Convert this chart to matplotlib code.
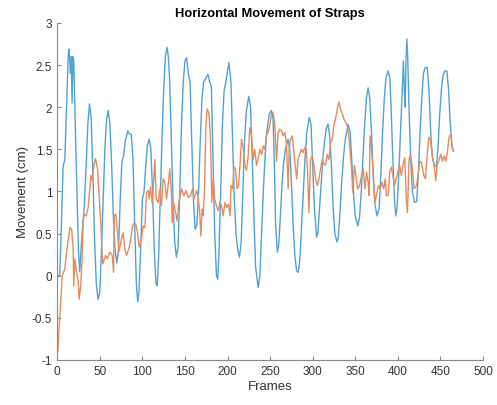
import matplotlib
matplotlib.use("Agg")
import matplotlib.pyplot as plt

# blue strap: frames / movement (cm)
blue_frames = [0, 3, 5, 7, 9, 11, 13, 14, 15.5, 16.5, 17.5, 18.5, 19.5, 21, 23, 25, 26.5, 28, 30, 32,
               34, 36, 38, 40, 42, 44, 46, 48, 50, 52, 54, 56, 58, 60, 62, 64, 66, 68, 70, 72,
               74, 76, 78, 80, 83, 85, 87, 89, 91, 93, 94.5, 96, 98, 100, 102, 104, 106, 108, 110, 112,
               114, 116, 117.5, 119, 121, 123, 125, 127, 129, 130.5, 132, 134, 136, 138, 140, 142, 144, 146, 148, 150,
               152, 154, 156, 158, 160, 162, 164, 166, 168, 170, 172, 175, 177, 179, 181, 183, 185, 187, 188.5, 190,
               192, 194, 196, 198, 201.5, 204, 206, 208, 210, 212, 214, 216, 218, 220, 222, 225, 227, 229, 231, 233,
               236, 238, 240, 242, 244, 246, 249, 251.5, 253.5, 255, 256.5, 258.5, 260, 262, 264, 266, 268, 271, 273, 275,
               277, 279, 281, 283, 285, 287, 289, 291, 293, 296, 298, 300, 302, 304.5, 306, 308, 310, 312, 314, 316,
               318, 320, 322, 324, 326, 328.5, 330, 332, 334, 336, 338, 341.5, 344, 346, 348, 350, 353, 355, 357, 359,
               361, 363, 365, 367, 369, 371, 373, 375.5, 378, 380, 382, 384, 386, 388.5, 390.5, 392, 394, 396, 397.5, 399,
               401, 403, 405, 406.5, 407.5, 408.5, 409.5, 410.5, 411.5, 413, 415, 417, 419.5, 422, 424, 426, 428, 430, 432, 434.5,
               436.5, 438.5, 440.5, 443, 445, 447, 449, 451, 453, 455, 457.5, 459.5, 461.5, 463.5, 465]
blue_vals = [0.0, 0.0, 0.6, 1.3, 1.38, 2.0, 2.62, 2.69, 2.4, 2.6, 2.05, 2.6, 2.55, 1.9, 1.1, 0.3, 0.05, 0.3, 0.6, 0.85,
             1.3, 1.8, 2.04, 1.85, 1.2, 0.4, -0.1, -0.28, -0.2, 0.3, 0.9, 1.5, 1.85, 1.96, 1.8, 1.3, 0.7, 0.3, 0.15, 0.3,
             0.9, 1.35, 1.42, 1.6, 1.72, 1.68, 1.68, 1.4, 0.6, -0.1, -0.31, -0.2, 0.3, 0.9, 1.0, 1.3, 1.55, 1.62, 1.5, 1.0,
             0.3, -0.1, -0.12, 0.2, 0.9, 1.6, 2.2, 2.6, 2.71, 2.6, 2.33, 1.6, 0.9, 0.4, 0.22, 0.35, 1.0, 1.8, 2.3, 2.55,
             2.59, 2.4, 2.3, 1.6, 0.9, 0.55, 0.6, 1.0, 1.6, 2.1, 2.3, 2.35, 2.39, 2.3, 2.25, 1.4, 0.5, 0.0, -0.04, 0.3,
             1.0, 1.8, 2.2, 2.3, 2.53, 2.3, 1.6, 0.9, 0.5, 0.3, 0.22, 0.4, 1.0, 1.6, 1.95, 2.13, 2.0, 1.4, 0.7, 0.1,
             -0.14, 0.0, 0.5, 1.0, 1.4, 1.7, 1.92, 1.96, 1.85, 1.3, 0.6, 0.28, 0.35, 0.7, 1.1, 1.35, 1.5, 1.62, 1.5, 1.1,
             0.6, 0.25, 0.06, 0.04, 0.2, 0.6, 1.0, 1.4, 1.7, 1.88, 1.8, 1.3, 0.8, 0.46, 0.5, 0.8, 1.1, 1.4, 1.6, 1.75,
             1.8, 1.65, 1.3, 0.8, 0.5, 0.4, 0.45, 0.75, 1.1, 1.4, 1.6, 1.8, 1.7, 1.35, 0.95, 0.7, 0.59, 0.7, 1.0, 1.4,
             1.8, 2.1, 2.23, 2.1, 1.7, 1.2, 0.85, 0.71, 0.8, 1.2, 1.7, 2.1, 2.35, 2.43, 2.35, 2.0, 1.4, 0.9, 0.71, 0.8,
             1.2, 1.7, 2.2, 2.55, 2.2, 2.0, 2.55, 2.81, 2.6, 2.0, 1.4, 1.0, 0.87, 0.88, 1.2, 1.7, 2.1, 2.4, 2.47, 2.47,
             2.2, 1.7, 1.4, 1.3, 1.3, 1.5, 1.9, 2.2, 2.38, 2.43, 2.43, 2.2, 1.8, 1.55, 1.48]

# orange strap
orange_frames = [0, 1, 2, 4.3, 6, 9, 12, 15, 17, 18.8, 19.5, 20.8, 22.7, 24.7, 25.8, 27.7, 29.4, 30.5, 31.7, 34,
                 36.4, 38.4, 39.6, 41, 43.5, 45, 47.4, 49, 51.3, 52.8, 53.6, 56.8, 59, 61.9, 64.6, 66.2, 67, 68.9, 70.9, 72.4,
                 74, 75.6, 77.5, 79.4, 81.4, 84.1, 86.5, 88.5, 90.4, 92.3, 94.3, 96.2, 99, 101, 103, 104.9, 107, 108, 109.6, 111.5,
                 113.5, 114.7, 116.3, 118.6, 120.5, 122.5, 124.4, 126.4, 128.3, 130.2, 132.3, 134, 135, 136.7, 139, 140.7, 143, 146, 148.8, 151,
                 154, 156.6, 159, 160.5, 163.7, 165.6, 167.6, 168.7, 170.2, 171.4, 173, 174.5, 176, 178.3, 180, 181.6, 183, 185, 187, 189,
                 191, 193, 194.9, 197, 199, 201, 203, 204, 206, 207.4, 209.3, 211.3, 212.9, 214.4, 216.4, 218.4, 220.3, 222.3, 224.2, 226.2,
                 228.2, 230.1, 232, 234, 236, 238, 240, 241.8, 243.7, 245.7, 247.6, 249.6, 251.6, 253.5, 255.5, 257.5, 259.4, 261.4, 263.4, 265.3,
                 267.3, 269.2, 271.2, 272.4, 274, 276, 278.3, 281.2, 282.8, 284.7, 286.6, 288.6, 290.5, 292.5, 294, 295.5, 297.5, 299.4, 301.4, 303.3,
                 305.3, 307.3, 309.2, 311.2, 313.1, 315, 317, 319, 321, 322.9, 324.8, 326.8, 328.8, 330.7, 332.7, 334.6, 336.6, 338.5, 340.5, 342.4,
                 344.4, 345.6, 347, 349, 351, 353, 355, 357.3, 359.3, 361.2, 363.2, 365, 366.3, 367.3, 369.7, 371.6, 373, 375.5, 377.5, 379.4,
                 381.4, 383.3, 385.3, 386.5, 388.5, 390.4, 392.4, 394, 396, 398, 400, 402, 404, 405.8, 408, 410, 411.2, 413.1, 414.7, 417,
                 419, 421.8, 423.7, 425.7, 427.7, 430.4, 432.3, 434.3, 436.3, 438.2, 440.5, 442.5, 444.4, 446, 448.3, 450.3, 452.2, 454.2, 456.1, 458.1,
                 460, 462, 464, 465.5]
orange_vals = [-0.95, -0.87, -0.67, -0.28, 0.0, 0.08, 0.36, 0.57, 0.55, 0.32, -0.12, 0.2, 0.04, -0.06, -0.28, -0.12, 0.24, 0.63, 0.73, 0.71,
               0.81, 1.03, 1.19, 1.13, 1.33, 1.39, 1.27, 0.99, 0.59, 0.24, 0.14, 0.24, 0.2, 0.28, 0.24, 0.04, 0.71, 0.73, 0.51, 0.28,
               0.36, 0.44, 0.51, 0.32, 0.24, 0.32, 0.44, 0.59, 0.63, 0.61, 0.51, 0.34, 0.44, 0.59, 0.57, 0.99, 1.01, 0.91, 1.05, 0.87,
               1.15, 1.38, 0.91, 0.87, 1.03, 0.83, 1.15, 1.11, 0.91, 1.07, 1.27, 1.03, 0.63, 0.87, 0.75, 0.65, 0.87, 1.03, 0.95, 1.01,
               0.93, 0.95, 1.03, 0.91, 1.01, 0.93, 0.71, 0.47, 0.79, 0.71, 1.03, 1.74, 1.98, 1.92, 1.62, 0.87, 1.15, 0.91, 0.83, 0.77,
               0.87, 0.83, 0.71, 0.87, 0.81, 0.85, 0.71, 1.07, 1.03, 1.29, 1.27, 1.03, 1.07, 1.27, 1.62, 1.52, 1.31, 1.25, 1.42, 1.76,
               1.66, 1.38, 1.5, 1.31, 1.4, 1.5, 1.44, 1.54, 1.5, 1.66, 1.7, 1.78, 1.92, 1.94, 1.78, 1.36, 1.7, 1.74, 1.72, 1.66,
               1.70, 1.56, 1.03, 1.5, 1.62, 1.66, 1.42, 1.15, 1.38, 1.44, 1.5, 1.46, 1.52, 1.5, 1.23, 0.75, 1.38, 1.42, 1.31, 1.15,
               1.07, 1.15, 1.27, 1.38, 1.33, 1.31, 1.44, 1.38, 1.58, 1.62, 1.78, 1.86, 1.98, 2.06, 1.98, 1.92, 1.86, 1.82, 1.78, 1.66,
               1.42, 1.27, 0.99, 1.31, 1.15, 1.03, 1.07, 1.19, 1.27, 1.03, 1.23, 1.11, 0.95, 1.66, 1.42, 1.11, 0.87, 0.99, 1.07, 1.03,
               1.11, 1.03, 1.15, 0.95, 0.95, 1.23, 1.29, 1.19, 1.07, 1.15, 1.23, 1.31, 1.19, 1.31, 1.4, 0.91, 0.75, 1.38, 1.44, 1.27,
               1.03, 1.07, 1.19, 1.36, 1.34, 1.19, 1.15, 1.42, 1.64, 1.62, 1.42, 1.31, 1.13, 1.31, 1.38, 1.44, 1.36, 1.42, 1.36, 1.46,
               1.64, 1.68, 1.5, 1.48]

x_ticks = list(range(0, 501, 50))
y_ticks = [-1, -0.5, 0, 0.5, 1, 1.5, 2, 2.5, 3]
y_labels = ['-1', '-0.5', '0', '0.5', '1', '1.5', '2', '2.5', '3']

plt.rcParams['font.family'] = ['Liberation Sans', 'DejaVu Sans']

fig = plt.figure(figsize=(4.97, 4.06), dpi=100)
ax = fig.add_axes([0.115, 0.111, 0.857, 0.830])

ax.plot(blue_frames, blue_vals, color='#52a3d2', linewidth=1.0)
ax.plot(orange_frames, orange_vals, color='#e38c62', linewidth=1.0)

ax.set_xlim(0, 500)
ax.set_ylim(-1, 3)
ax.set_xticks(x_ticks)
ax.set_yticks(y_ticks)
ax.set_yticklabels(y_labels)

for side in ['top', 'right']:
    ax.spines[side].set_visible(False)
for side in ['left', 'bottom']:
    ax.spines[side].set_color('#8a8a8a')
    ax.spines[side].set_linewidth(0.8)
ax.tick_params(direction='in', length=3, width=0.8, color='#8a8a8a',
               labelsize=8.5, labelcolor='#333333')

ax.set_title('Horizontal Movement of Straps', fontsize=9.3, fontweight='bold', pad=5)
ax.set_xlabel('Frames', fontsize=9.5, color='#333333', labelpad=2)
ax.set_ylabel('Movement (cm)', fontsize=9.5, color='#333333', labelpad=2)

fig.savefig('out.png', dpi=100)
